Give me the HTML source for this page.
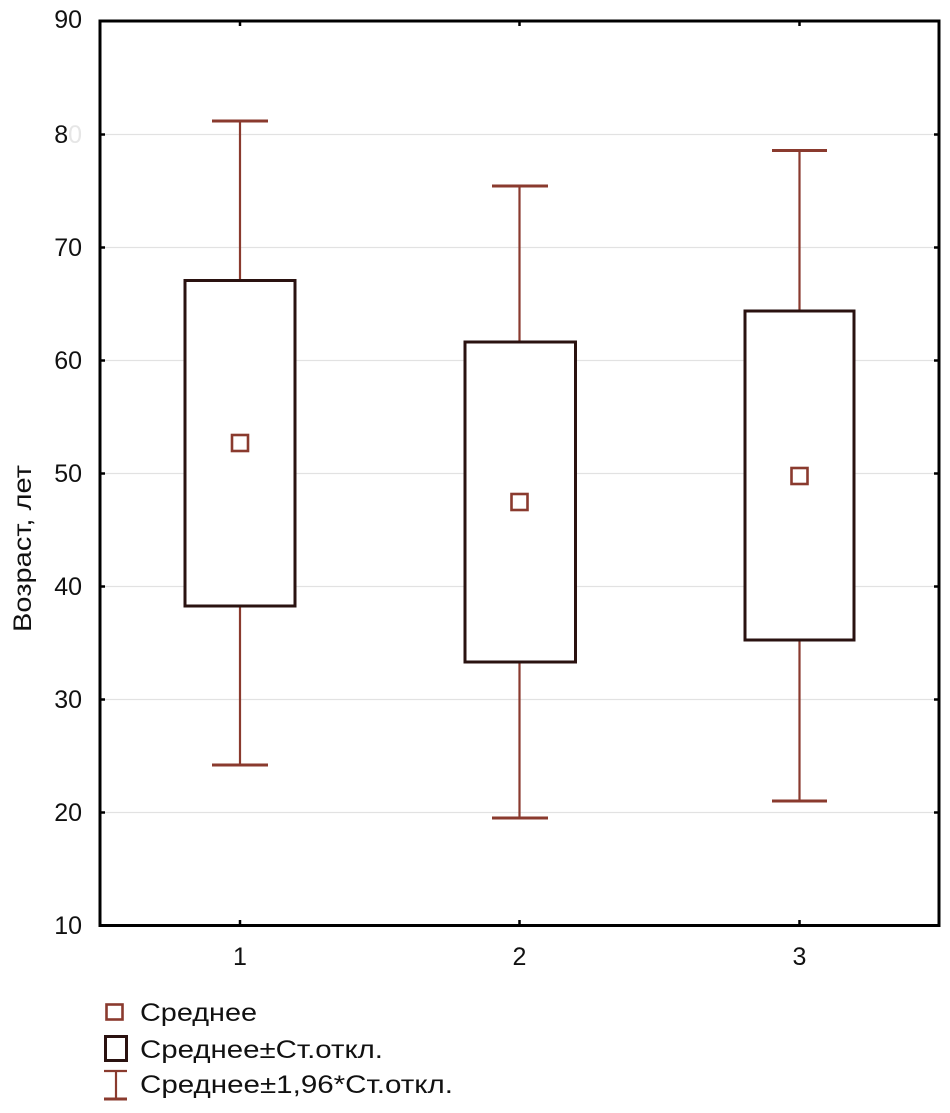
<!DOCTYPE html>
<html><head><meta charset="utf-8"><style>
html,body{margin:0;padding:0;background:#fff;}
svg{display:block;}
text{font-family:"Liberation Sans","DejaVu Sans",sans-serif;fill:#111;}
</style></head><body>
<svg width="950" height="1113" viewBox="0 0 950 1113" xmlns="http://www.w3.org/2000/svg">
<rect width="950" height="1113" fill="#fff"/>
<!-- grid -->
<g stroke="#e2e2e2" stroke-width="1.3">
<line x1="100" y1="134.5" x2="939" y2="134.5"/>
<line x1="100" y1="247.5" x2="939" y2="247.5"/>
<line x1="100" y1="360.5" x2="939" y2="360.5"/>
<line x1="100" y1="473.5" x2="939" y2="473.5"/>
<line x1="100" y1="586.5" x2="939" y2="586.5"/>
<line x1="100" y1="699.5" x2="939" y2="699.5"/>
<line x1="100" y1="812.5" x2="939" y2="812.5"/>
</g>
<!-- whiskers -->
<g stroke="#8a3a2e" fill="none">
<line x1="240" y1="121" x2="240" y2="765" stroke-width="2.2"/>
<line x1="212" y1="121" x2="268" y2="121" stroke-width="3"/>
<line x1="212" y1="765" x2="268" y2="765" stroke-width="3"/>
<line x1="519.5" y1="186" x2="519.5" y2="818" stroke-width="2.2"/>
<line x1="492" y1="186" x2="548" y2="186" stroke-width="3"/>
<line x1="492" y1="818" x2="548" y2="818" stroke-width="3"/>
<line x1="799.5" y1="150.5" x2="799.5" y2="801" stroke-width="2.2"/>
<line x1="772" y1="150.5" x2="827" y2="150.5" stroke-width="3"/>
<line x1="772" y1="801" x2="827" y2="801" stroke-width="3"/>
</g>
<!-- boxes -->
<g stroke="#2a1210" stroke-width="3" fill="#fff">
<rect x="185" y="280.5" width="110" height="325.5"/>
<rect x="465" y="342" width="110.5" height="320"/>
<rect x="745" y="311" width="109" height="329"/>
</g>
<!-- means -->
<g stroke="#8a3a2e" stroke-width="2.6" fill="#fff">
<rect x="232" y="435" width="16" height="16"/>
<rect x="511.5" y="494" width="16" height="16"/>
<rect x="791.5" y="468" width="16" height="16"/>
</g>
<!-- axes -->
<rect x="100" y="21" width="839" height="904.5" fill="none" stroke="#000" stroke-width="3"/>
<g stroke="#000" stroke-width="2.5">
<line x1="100" y1="134.5" x2="105" y2="134.5"/>
<line x1="100" y1="247.5" x2="105" y2="247.5"/>
<line x1="100" y1="360.5" x2="105" y2="360.5"/>
<line x1="100" y1="473.5" x2="105" y2="473.5"/>
<line x1="100" y1="586.5" x2="105" y2="586.5"/>
<line x1="100" y1="699.5" x2="105" y2="699.5"/>
<line x1="100" y1="812.5" x2="105" y2="812.5"/>
<line x1="939" y1="134.5" x2="934" y2="134.5"/>
<line x1="939" y1="247.5" x2="934" y2="247.5"/>
<line x1="939" y1="360.5" x2="934" y2="360.5"/>
<line x1="939" y1="473.5" x2="934" y2="473.5"/>
<line x1="939" y1="586.5" x2="934" y2="586.5"/>
<line x1="939" y1="699.5" x2="934" y2="699.5"/>
<line x1="939" y1="812.5" x2="934" y2="812.5"/>
<line x1="240" y1="21" x2="240" y2="26"/>
<line x1="519.5" y1="21" x2="519.5" y2="26"/>
<line x1="799.5" y1="21" x2="799.5" y2="26"/>
<line x1="240" y1="925" x2="240" y2="920"/>
<line x1="519.5" y1="925" x2="519.5" y2="920"/>
<line x1="799.5" y1="925" x2="799.5" y2="920"/>
</g>
<!-- y tick labels -->
<g font-size="25" text-anchor="end">
<text x="82" y="28">90</text>
<text x="82" y="143"><tspan>8</tspan><tspan fill="#e6e6e6">0</tspan></text>
<text x="82" y="256">70</text>
<text x="82" y="369">60</text>
<text x="82" y="482">50</text>
<text x="82" y="595">40</text>
<text x="82" y="708">30</text>
<text x="82" y="821">20</text>
<text x="82" y="934">10</text>
</g>
<!-- x tick labels -->
<g font-size="25" text-anchor="middle">
<text x="240" y="965">1</text>
<text x="519.5" y="965">2</text>
<text x="799.5" y="965">3</text>
</g>
<!-- y axis label -->
<text transform="translate(31,632) rotate(-90)" font-size="25" textLength="167" lengthAdjust="spacingAndGlyphs">Возраст, лет</text>
<!-- legend -->
<rect x="106.5" y="1004.5" width="16" height="15" fill="#fff" stroke="#8a3a2e" stroke-width="2.6"/>
<text x="140" y="1021" font-size="25" textLength="117" lengthAdjust="spacingAndGlyphs">Среднее</text>
<rect x="105.5" y="1036.5" width="21" height="24" fill="#fff" stroke="#2a1210" stroke-width="3"/>
<text x="140" y="1058" font-size="25" textLength="243" lengthAdjust="spacingAndGlyphs">Среднее±Ст.откл.</text>
<g stroke="#8a3a2e">
<line x1="104" y1="1071" x2="127" y2="1071" stroke-width="2.2"/>
<line x1="116" y1="1071" x2="116" y2="1099" stroke-width="2.2"/>
<line x1="104" y1="1099" x2="127" y2="1099" stroke-width="3"/>
</g>
<text x="140" y="1093" font-size="25" textLength="313" lengthAdjust="spacingAndGlyphs">Среднее±1,96*Ст.откл.</text>
</svg>
</body></html>
